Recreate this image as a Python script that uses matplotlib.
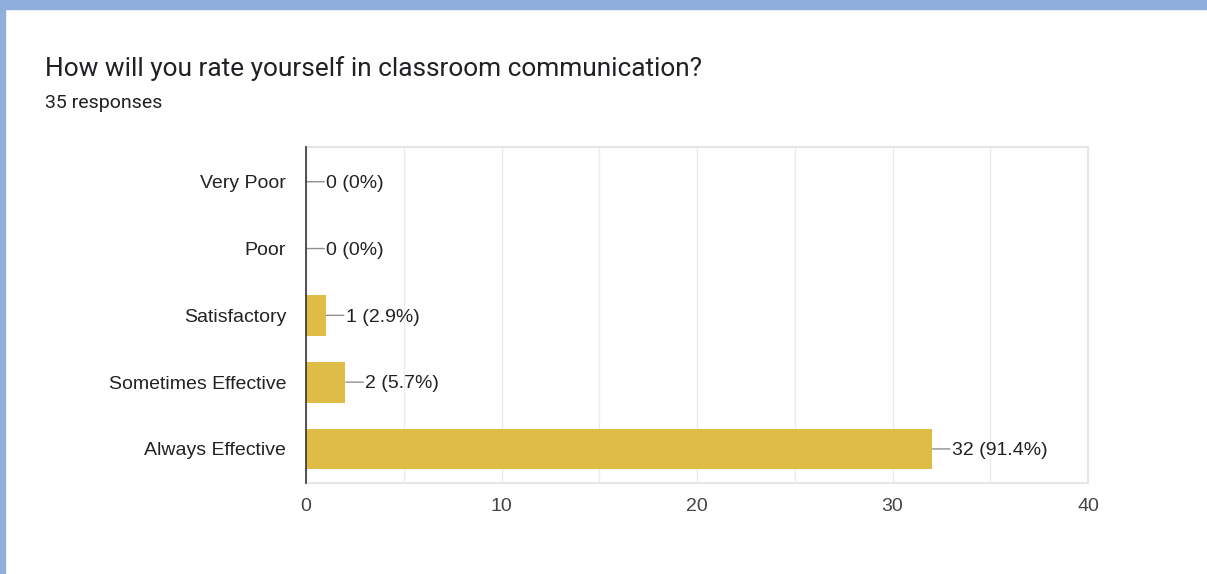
import matplotlib.pyplot as plt
from matplotlib.patches import Rectangle

categories = ['Very Poor', 'Poor', 'Satisfactory', 'Sometimes Effective', 'Always Effective']
counts = [0, 0, 1, 2, 32]
percents = ['0%', '0%', '2.9%', '5.7%', '91.4%']
xticks = [0, 10, 20, 30, 40]

plt.rcParams['font.family'] = ['Liberation Sans', 'DejaVu Sans']

fig = plt.figure(figsize=(12.07, 5.74), dpi=100)
fig.patch.set_facecolor('white')

# blue page border at top and left
fig.patches.append(Rectangle((0, 1 - 9/574), 1, 9/574, transform=fig.transFigure,
                             color='#8eaedc', zorder=0))
fig.patches.append(Rectangle((0, 0), 5/1207, 1, transform=fig.transFigure,
                             color='#8eaedc', zorder=0))

fig.text(45/1207, 1 - 69/574, 'How will you rate yourself in classroom communication?',
         fontsize=18.9, family='Roboto', color='#202124', va='center', ha='left')
fig.text(45/1207, 1 - 103/574, '35 responses',
         fontsize=14, family='Roboto', color='#202124', va='center', ha='left')

ax = fig.add_axes([306/1207, 91/574, 782/1207, 336/574])
ypos = list(range(len(categories)))
ax.barh(ypos, counts, height=0.61, color='#dfbc45', zorder=2)

for y, c, p in zip(ypos, counts, percents):
    # leader line from bar end to label
    ax.annotate('', xy=(c, y), xytext=(13.2, 0), textcoords='offset points',
                arrowprops=dict(arrowstyle='-', color='#8f8f8f', lw=1,
                                shrinkA=0, shrinkB=0.6))
    ax.annotate(f'{c} ({p})', xy=(c, y), xytext=(14.6, -1.2), textcoords='offset points',
                ha='left', va='center', fontsize=14, color='#222222')

ax.set_xlim(0, 40)
ax.set_ylim(4.51, -0.52)
ax.set_yticks(ypos)
ax.set_yticklabels(categories, fontsize=14, color='#222222')
ax.set_xticks(xticks)
ax.set_xticklabels([str(t) for t in xticks], fontsize=14, color='#444444')
ax.set_xticks(range(0, 41, 5), minor=True)
ax.tick_params(axis='both', length=0, which='both')
ax.tick_params(axis='x', pad=11)
ax.tick_params(axis='y', pad=14.3)
ax.grid(axis='x', which='both', color='#ebebeb', lw=1, zorder=0)
ax.set_axisbelow(True)

for s in ['top', 'right', 'bottom']:
    ax.spines[s].set_color('#e6e6e6')
    ax.spines[s].set_linewidth(1.5)
ax.spines['left'].set_color('#333333')
ax.spines['left'].set_linewidth(1.2)
ax.spines['left'].set_zorder(3)

fig.savefig('out.png', dpi=100, facecolor='white')
